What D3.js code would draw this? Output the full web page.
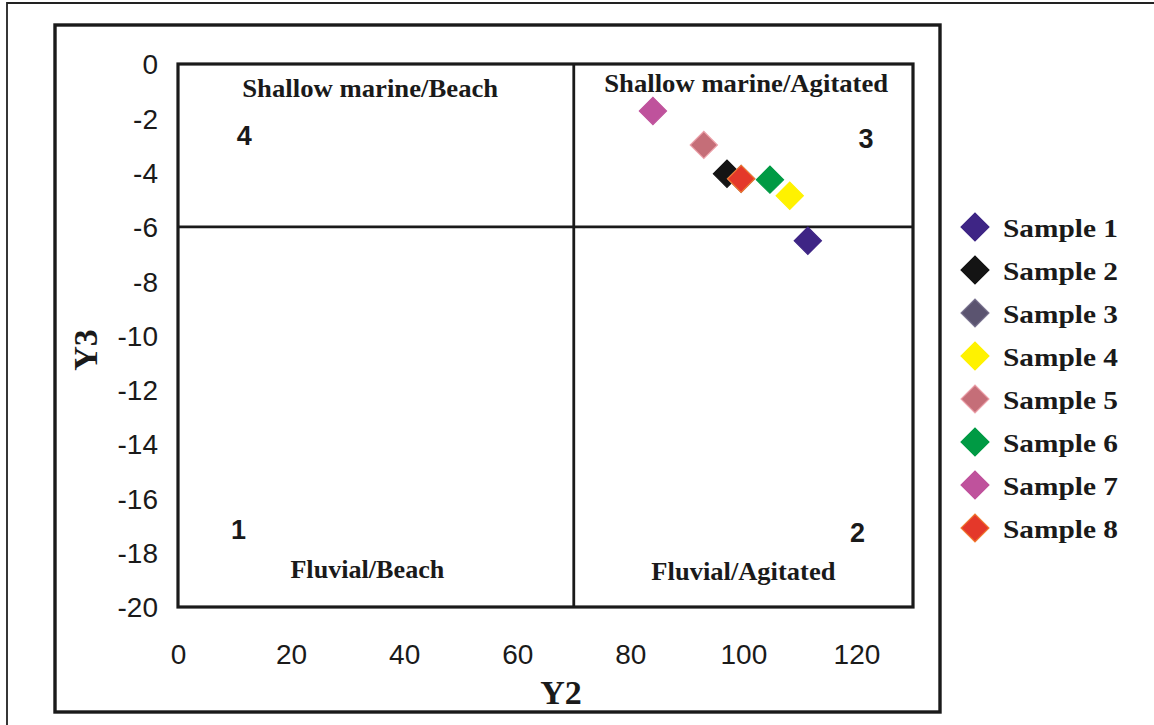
<!DOCTYPE html>
<html><head><meta charset="utf-8">
<script src="https://cdn.jsdelivr.net/npm/d3@7"></script>
<style>html,body{margin:0;padding:0;background:#fff}svg{display:block}</style>
</head><body>
<script>
const samples = ["Sample 1","Sample 2","Sample 3","Sample 4","Sample 5","Sample 6","Sample 7","Sample 8"];
const y2Values = [111.4, 97.1, 99.6, 108.2, 93.0, 104.7, 84.0, 99.6];
const y3Values = [-6.51, -4.04, -4.23, -4.85, -2.98, -4.26, -1.73, -4.23];
const fillColors = ["#3e2585","#141414","#5b5470","#fff200","#c56e78","#009a44","#bf529c","#e4382a"];
const strokeColors = ["#3e2585","#141414","#7a7490","#fff200","#eca1aa","#009a44","#bf529c","#f07a30"];
const xTicks = [0,20,40,60,80,100,120];
const yTicks = [0,-2,-4,-6,-8,-10,-12,-14,-16,-18,-20];
const regionLabels = ["Shallow marine/Beach","Shallow marine/Agitated","Fluvial/Beach","Fluvial/Agitated"];
const regionNumbers = ["4","3","1","2"];
const xDivider = 70, yDivider = -6;

const W = 1154, H = 725;
const svg = d3.select("body").append("svg").attr("width", W).attr("height", H);

const x = d3.scaleLinear().domain([0,130]).range([178,913]);
const y = d3.scaleLinear().domain([-20,0]).range([607,64]);

// outer thin frame
svg.append("path").attr("d", `M7,${H} L7,3 L${W},3`).attr("fill","none").attr("stroke","#222").attr("stroke-width",1.8);
// inner chart frame
svg.append("rect").attr("x",55).attr("y",25).attr("width",885).attr("height",687)
  .attr("fill","none").attr("stroke","#1a1a1a").attr("stroke-width",3.4);

// plot area
svg.append("rect").attr("x",x(0)).attr("y",y(0)).attr("width",x(130)-x(0)).attr("height",y(-20)-y(0))
  .attr("fill","none").attr("stroke","#1a1a1a").attr("stroke-width",3.2);
svg.append("line").attr("x1",x(xDivider)).attr("x2",x(xDivider)).attr("y1",y(0)).attr("y2",y(-20))
  .attr("stroke","#1a1a1a").attr("stroke-width",2.8);
svg.append("line").attr("x1",x(0)).attr("x2",x(130)).attr("y1",y(yDivider)).attr("y2",y(yDivider))
  .attr("stroke","#1a1a1a").attr("stroke-width",2.8);

// axes (labels only, no tick marks)
const fmt = d => String(d);
const yAxis = svg.append("g").attr("transform",`translate(${x(0)-20},0)`)
  .call(d3.axisLeft(y).tickValues(yTicks).tickSize(0).tickPadding(0).tickFormat(fmt));
yAxis.select(".domain").remove();
yAxis.selectAll("text").attr("font-family","Liberation Sans, Arial, sans-serif").attr("font-size",28)
  .attr("fill","#1a1a1a").attr("dy","0.35em");
const xAxis = svg.append("g").attr("transform",`translate(0,${y(-20)+37})`)
  .call(d3.axisBottom(x).tickValues(xTicks).tickSize(0).tickPadding(0).tickFormat(fmt));
xAxis.select(".domain").remove();
xAxis.selectAll("text").attr("font-family","Liberation Sans, Arial, sans-serif").attr("font-size",28)
  .attr("fill","#1a1a1a").attr("dy","0.72em");

const serif = "Liberation Serif, 'Times New Roman', serif";
svg.append("text").attr("transform","translate(97,350) rotate(-90)").attr("text-anchor","middle")
  .attr("font-family",serif).attr("font-weight","bold").attr("font-size",34).attr("fill","#1a1a1a").text("Y3");
svg.append("text").attr("x",561).attr("y",704).attr("text-anchor","middle")
  .attr("font-family",serif).attr("font-weight","bold").attr("font-size",34).attr("fill","#1a1a1a").text("Y2");

// region labels
const regionPos = [[34,-1.22,256],[100.5,-1.04,284],[33.5,-18.95,154],[100,-19.0,184]];
regionLabels.forEach((t,i)=>{
  svg.append("text").attr("x",x(regionPos[i][0])).attr("y",y(regionPos[i][1])).attr("text-anchor","middle")
    .attr("font-family",serif).attr("font-weight","bold").attr("font-size",25).attr("fill","#1a1a1a")
    .attr("textLength",regionPos[i][2]).attr("lengthAdjust","spacingAndGlyphs").text(t);
});
const numPos = [[11.7,-3.0],[121.7,-3.1],[10.7,-17.5],[120.2,-17.6]];
regionNumbers.forEach((t,i)=>{
  svg.append("text").attr("x",x(numPos[i][0])).attr("y",y(numPos[i][1])).attr("text-anchor","middle")
    .attr("font-family","Liberation Sans, Arial, sans-serif").attr("font-weight","bold").attr("font-size",27)
    .attr("fill","#1a1a1a").text(t);
});

// points
const diamond = d3.symbol().type(d3.symbolSquare).size(370);
svg.append("g").selectAll("path").data(samples).join("path")
  .attr("d", diamond)
  .attr("transform",(d,i)=>`translate(${x(y2Values[i])},${y(y3Values[i])}) rotate(45)`)
  .attr("fill",(d,i)=>fillColors[i]).attr("stroke",(d,i)=>strokeColors[i]).attr("stroke-width",1.2);

// legend
const lg = svg.append("g");
const rows = lg.selectAll("g").data(samples).join("g")
  .attr("transform",(d,i)=>`translate(975,${227 + i*43})`);
rows.append("path").attr("d", d3.symbol().type(d3.symbolSquare).size(390)).attr("transform","rotate(45)")
  .attr("fill",(d,i)=>fillColors[i]).attr("stroke",(d,i)=>strokeColors[i]).attr("stroke-width",1.2);
rows.append("text").attr("x",28).attr("y",10).attr("font-family",serif).attr("font-weight","bold")
  .attr("font-size",26).attr("fill","#1a1a1a")
  .attr("textLength",115).attr("lengthAdjust","spacingAndGlyphs").text(d=>d);
</script>
</body></html>
